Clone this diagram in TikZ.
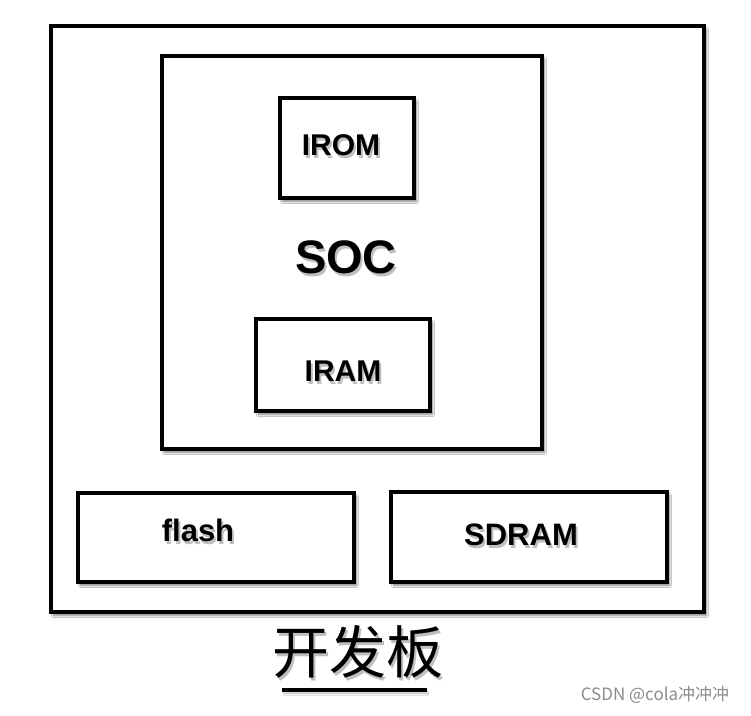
\documentclass[tikz,border=0pt]{standalone}
\usepackage{fontspec}
\setmainfont{Liberation Sans}
\newfontfamily\cjk{Noto Sans CJK SC}
\usetikzlibrary{shadows.blur}
\begin{document}
\begin{tikzpicture}[x=1pt,y=-1pt,
  boxst/.style={draw=black,line width=4pt,fill=white,inner sep=0pt,anchor=north west,
    blur shadow={shadow xshift=2.5pt,shadow yshift=-3.5pt,shadow blur steps=6,shadow opacity=50}},
  lbl/.style={font=\fontsize{#1}{#1}\selectfont\bfseries,text=black,inner sep=0pt},
  shd/.style={font=\fontsize{#1}{#1}\selectfont\bfseries,text=black,opacity=0.25,inner sep=0pt}]
\useasboundingbox (0,0) rectangle (751,715);
\fill[white] (0,0) rectangle (751,715);
\node[boxst,minimum width=653pt,minimum height=586pt] (board) at (49,24) {};
\node[boxst,minimum width=380pt,minimum height=393pt] (soc) at (160,54) {};
\node[boxst,minimum width=134pt,minimum height=100pt] (irom) at (278,96) {};
\node[boxst,minimum width=174pt,minimum height=92pt] (iram) at (254,317) {};
\node[boxst,minimum width=276pt,minimum height=89pt] (flash) at (76,491) {};
\node[boxst,minimum width=276pt,minimum height=90pt] (sdram) at (389,490) {};
\node[shd=30] (sirom) at (343,148) {IROM};
\node[shd=47] (ssoc) at (348,260) {SOC};
\node[shd=30] (siram) at (345,374) {IRAM};
\node[shd=31] (sflash) at (200,533) {flash};
\node[shd=31] (ssdram) at (523,538) {SDRAM};
\node[lbl=30] (tirom) at (341,145) {IROM};
\node[lbl=47] (tsoc) at (346,257) {SOC};
\node[lbl=30] (tiram) at (343,371) {IRAM};
\node[lbl=31] (tflash) at (198,530) {flash};
\node[lbl=31] (tsdram) at (521,535) {SDRAM};
\node[font=\cjk\fontsize{57}{57}\selectfont,text=black,opacity=0.25,inner sep=0pt] (stitle) at (360,655) {开发板};
\node[font=\cjk\fontsize{57}{57}\selectfont,inner sep=0pt] (title) at (358,652) {开发板};
\coordinate (ul1) at (282,690);
\coordinate (ul2) at (427,690);
\draw[line width=3.5pt,blur shadow={shadow xshift=1pt,shadow yshift=-3pt,shadow opacity=40}] (ul1) -- (ul2);
\node[font=\cjk\fontsize{17}{17}\selectfont,text=black!45,inner sep=0pt] (wm) at (655,695) {CSDN @cola冲冲冲};
\end{tikzpicture}
\end{document}
